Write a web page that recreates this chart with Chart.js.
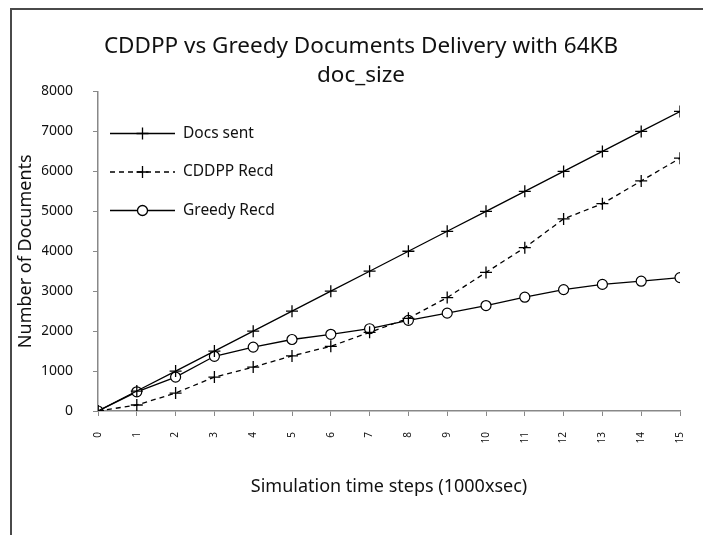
<!DOCTYPE html>
<html lang="en">
<head>
  <meta charset="UTF-8" />
  <title>CDDPP vs Greedy</title>
  <script src="https://cdn.jsdelivr.net/npm/chart.js"></script>
  <style>
    body{margin:0;padding:0;background:#fff;overflow:hidden}
    .wrap{position:relative;width:703px;height:535px}
    .frame{position:absolute;left:10px;top:8px;width:760px;height:600px;border:2px solid #4a4a4a}
    canvas{position:absolute;left:0;top:0}
  </style>
</head>
<body>
<div class="wrap">
  <div class="frame"></div>
  <canvas id="c" width="703" height="535"></canvas>
</div>
<script>
// --- data ---
const steps=[0,1,2,3,4,5,6,7,8,9,10,11,12,13,14,15];
const docsSent=[0,500,1000,1500,2000,2500,3000,3500,4000,4500,5000,5500,6000,6500,7000,7500];
const cddppRecd=[0,150,450,850,1100,1380,1620,1970,2320,2840,3470,4090,4810,5190,5760,6330];
const greedyRecd=[0,480,850,1370,1600,1790,1920,2060,2270,2450,2640,2850,3040,3170,3250,3340];
const seriesNames=['Docs sent','CDDPP Recd','Greedy Recd'];
const titleLines=['CDDPP vs Greedy Documents Delivery with 64KB','doc_size'];

const FONT='"Noto Sans", sans-serif';
const pts=v=>steps.map((s,i)=>({x:s,y:v[i]}));

// legend drawn inside the plot, top-left, line sample + marker like the original
const innerLegend={
  id:'innerLegend',
  afterDatasetsDraw(chart){
    const {ctx,chartArea:a}=chart;
    ctx.save();
    chart.data.datasets.forEach((ds,i)=>{
      const y=a.top+42+i*38.5, x0=a.left+12, x1=a.left+77, xm=(x0+x1)/2;
      ctx.strokeStyle='#000';ctx.lineWidth=1.3;
      ctx.setLineDash(ds.borderDash||[]);
      ctx.beginPath();ctx.moveTo(x0,y);ctx.lineTo(x1,y);ctx.stroke();
      ctx.setLineDash([]);
      ctx.beginPath();
      if(ds.pointStyle==='circle'){
        ctx.fillStyle='#fff';ctx.arc(xm,y,5,0,Math.PI*2);ctx.fill();ctx.stroke();
      }else{
        ctx.moveTo(xm-6,y);ctx.lineTo(xm+6,y);ctx.moveTo(xm,y-6);ctx.lineTo(xm,y+6);ctx.stroke();
      }
      ctx.fillStyle='#111';ctx.font='15.5px '+FONT;ctx.textBaseline='middle';ctx.textAlign='left';
      ctx.fillText(ds.label,a.left+85,y);
    });
    ctx.restore();
  }
};

new Chart(document.getElementById('c'),{
  type:'line',
  data:{datasets:[
    {label:seriesNames[0],data:pts(docsSent),borderColor:'#000',borderWidth:1.3,pointStyle:'cross',pointRadius:6,pointBorderColor:'#000',pointBorderWidth:1.3},
    {label:seriesNames[1],data:pts(cddppRecd),borderColor:'#000',borderWidth:1.3,borderDash:[5,4],pointStyle:'cross',pointRadius:6,pointBorderColor:'#000',pointBorderWidth:1.3},
    {label:seriesNames[2],data:pts(greedyRecd),borderColor:'#000',borderWidth:1.3,pointStyle:'circle',pointRadius:5,pointBackgroundColor:'#fff',pointBorderColor:'#000',pointBorderWidth:1.2}
  ]},
  options:{
    responsive:false,animation:false,
    // left padding pushes the title centre to match; y axis width compensates
    layout:{padding:{left:42,right:23,top:0,bottom:0}},
    plugins:{
      legend:{display:false},
      tooltip:{enabled:false},
      title:{display:true,text:titleLines,color:'#111',font:{family:FONT,size:22.5,weight:'normal',lineHeight:1.3},padding:{top:32,bottom:1}}
    },
    scales:{
      x:{type:'linear',min:0,max:15,
        afterFit:s=>{s.height=124;s.paddingLeft=0;s.paddingRight=0;},
        afterCalculateLabelRotation:s=>{s.labelRotation=90;},
        grid:{drawOnChartArea:false,drawTicks:true,tickLength:5,color:'#888'},
        border:{color:'#888',width:1.5},
        ticks:{stepSize:1,autoSkip:false,padding:16,color:'#111',font:{family:FONT,size:10},callback:v=>String(v)},
        title:{display:true,text:'Simulation time steps (1000xsec)',color:'#111',font:{family:FONT,size:18},padding:{top:0,bottom:37}}
      },
      y:{min:0,max:8000,
        afterFit:s=>{s.width=56;},
        grid:{drawOnChartArea:false,drawTicks:true,tickLength:5,color:'#888'},
        border:{color:'#888',width:1.5},
        ticks:{stepSize:1000,padding:20,color:'#111',font:{family:FONT,size:14},callback:v=>String(v)},
        title:{display:true,text:'Number of Documents',color:'#111',font:{family:FONT,size:18},padding:{top:-26.8,bottom:0}}
      }
    }
  },
  plugins:[innerLegend]
});
</script>
</body>
</html>
